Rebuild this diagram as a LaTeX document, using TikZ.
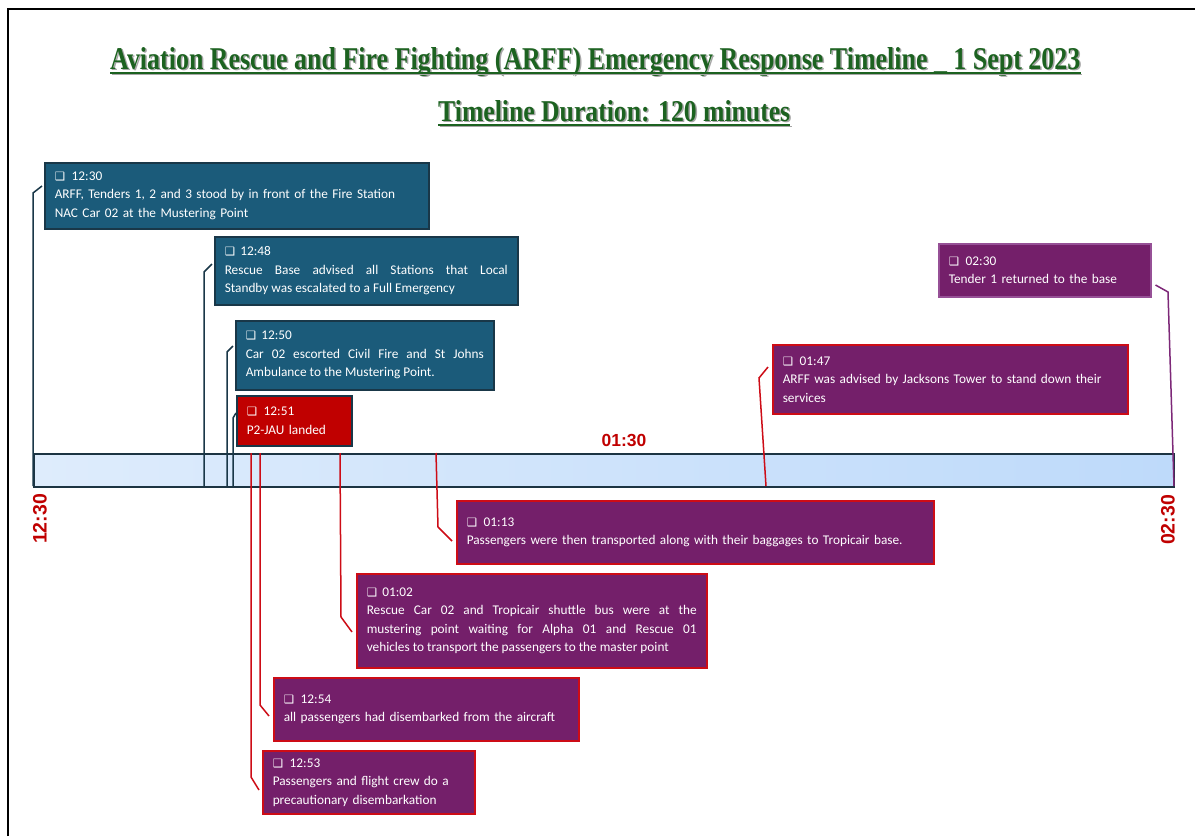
\documentclass[tikz,border=0pt]{standalone}
\usepackage{fontspec}
\usepackage{graphicx}
\usetikzlibrary{calc}
\setmainfont{Carlito}
\newfontfamily\titlefont{Liberation Serif}
\newfontfamily\labfont{Liberation Sans}
\newfontfamily\symfont{DejaVu Sans}
\definecolor{boxblue}{RGB}{27,91,122}
\definecolor{boxblueedge}{RGB}{25,55,72}
\definecolor{boxpurple}{RGB}{116,31,106}
\definecolor{edgered}{RGB}{205,12,22}
\definecolor{labred}{RGB}{192,0,0}
\definecolor{titlegreen}{RGB}{28,98,32}
\definecolor{barleft}{RGB}{222,236,252}
\definecolor{barright}{RGB}{190,218,250}
\definecolor{baredge}{RGB}{28,52,66}
\definecolor{connpurple}{RGB}{125,40,120}
\definecolor{edgepurple}{RGB}{150,80,150}
\newcommand{\chk}{{\symfont\fontsize{11.5}{11.5}\selectfont ❑}\ \,}
\tikzset{
  evt/.style={anchor=north west, inner xsep=10pt, inner ysep=0pt, text=white,
    font=\fontsize{13.3}{18.5}\selectfont, line width=1.5pt, align=left},
  bluebox/.style={evt, fill=boxblue, draw=boxblueedge},
  redbox/.style={evt, fill=labred, draw=boxblueedge},
  purplebox/.style={evt, fill=boxpurple, draw=edgered},
  lightpurplebox/.style={evt, fill=boxpurple, draw=edgepurple},
  bconn/.style={draw=boxblueedge, line width=1.5pt},
  rconn/.style={draw=edgered, line width=1.5pt},
  pconn/.style={draw=connpurple, line width=1.5pt},
  ttl/.style={inner sep=0pt, anchor=base west, text=titlegreen},
  ttlshadow/.style={inner sep=0pt, anchor=base west, text=black!35},
  timelab/.style={text=labred, font=\labfont\bfseries\fontsize{19.5}{19.5}\selectfont, inner sep=0pt}
}
\begin{document}
\begin{tikzpicture}[x=1pt,y=-1pt]
\useasboundingbox (0,0) rectangle (1195,836);
\fill[white] (0,0) rectangle (1195,836);
% frame
\draw[line width=2pt] (8,836) -- (8,9) -- (1195,9);

% titles
\node[ttlshadow] at (111.5,70.5) {\resizebox{970pt}{22pt}{\titlefont\bfseries Aviation Rescue and Fire Fighting (ARFF) Emergency Response Timeline \_ 1 Sept 2023}};
\node[ttl] (title) at (110,69) {\resizebox{970pt}{22pt}{\titlefont\bfseries Aviation Rescue and Fire Fighting (ARFF) Emergency Response Timeline \_ 1 Sept 2023}};
\draw[black!35, line width=1.5pt] ($(title.base west)+(1.5,5.5)$) -- ($(title.base east)+(1.5,5.5)$);
\draw[titlegreen, line width=1.5pt] ($(title.base west)+(0,4)$) -- ($(title.base east)+(0,4)$);

\node[ttlshadow] at (439.5,122.5) {\resizebox{352pt}{21pt}{\titlefont\bfseries Timeline Duration: 120 minutes}};
\node[ttl] (subtitle) at (438,121) {\resizebox{352pt}{21pt}{\titlefont\bfseries Timeline Duration: 120 minutes}};
\draw[black!35, line width=1.5pt] ($(subtitle.base west)+(1.5,5.5)$) -- ($(subtitle.base east)+(1.5,5.5)$);
\draw[titlegreen, line width=1.5pt] ($(subtitle.base west)+(0,4)$) -- ($(subtitle.base east)+(0,4)$);

% timeline bar
\node[draw=baredge, line width=2pt, left color=barleft, right color=barright, anchor=north west,
  minimum width=1140pt, minimum height=33pt, inner sep=0pt] (bar) at (33,453) {};

% time labels
\node[timelab, rotate=90] (l1230) at (40,519) {12:30};
\node[timelab, rotate=90] (l0230) at (1168,520) {02:30};
\node[timelab, font=\labfont\bfseries\fontsize{17.5}{17.5}\selectfont, anchor=base] (l0130) at (624,446) {01:30};

% event boxes
\node[bluebox, minimum width=384pt, minimum height=66pt, text width=364pt] (e1230) at (44,162)
  {\chk 12:30\\ARFF, Tenders 1, 2 and 3 stood by in front of the Fire Station\\NAC Car 02 at the Mustering Point};
\node[bluebox, minimum width=303pt, minimum height=68pt, text width=283pt, align=justify] (e1248) at (214,236)
  {\chk 12:48\newline Rescue Base advised all Stations that Local\linebreak Standby was escalated to a Full Emergency};
\node[bluebox, minimum width=258pt, minimum height=69pt, text width=238pt, align=justify] (e1250) at (235,320)
  {\chk 12:50\newline Car 02 escorted Civil Fire and St Johns\linebreak Ambulance to the Mustering Point.};
\node[redbox, minimum width=115pt, minimum height=50pt, text width=95pt] (e1251) at (236,395)
  {\chk 12:51\\P2-JAU landed};
\node[lightpurplebox, minimum width=212pt, minimum height=53pt, text width=192pt] (e0230) at (938,243)
  {\chk 02:30\\Tender 1 returned to the base};
\node[purplebox, minimum width=355pt, minimum height=69pt, text width=335pt] (e0147) at (772,344)
  {\chk 01:47\\ARFF was advised by Jacksons Tower to stand down their\\services};
\node[purplebox, minimum width=477pt, minimum height=63pt, text width=457pt] (e0113) at (456,500)
  {\chk 01:13\\Passengers were then transported along with their baggages to Tropicair base.};
\node[purplebox, minimum width=350pt, minimum height=94pt, text width=330pt, align=justify] (e0102) at (356,573)
  {\chk 01:02\newline Rescue Car 02 and Tropicair shuttle bus were at the\linebreak mustering point waiting for Alpha 01 and Rescue 01\linebreak vehicles to transport the passengers to the master point};
\node[purplebox, minimum width=305pt, minimum height=63pt, text width=285pt] (e1254) at (273,677)
  {\chk 12:54\\all passengers had disembarked from the aircraft};
\node[purplebox, minimum width=212pt, minimum height=63pt, text width=192pt] (e1253) at (262,750)
  {\chk 12:53\\Passengers and flight crew do a\\precautionary disembarkation};

% anchor points on the bar
\coordinate (b1230) at (33,486);
\coordinate (b1248) at (204,486);
\coordinate (b1250) at (227,486);
\coordinate (b1251) at (233,486);
\coordinate (b1253) at (251,453);
\coordinate (b1254) at (260,453);
\coordinate (b0102) at (340,453);
\coordinate (b0113) at (436,453);
\coordinate (b0147) at (766,486);
\coordinate (b0230) at (1174,486);

% connectors
\draw[bconn] (b1230) -- (33,193) -- ($(e1230.north west)+(-2,24)$);
\draw[bconn] (b1248) -- (204,272) -- ($(e1248.north west)+(-2,28)$);
\draw[bconn] (b1250) -- (227,352) -- ($(e1250.north west)+(-2,26)$);
\draw[bconn] (b1251) -- (233,418) -- ($(e1251.north west)+(0,18)$);
\draw[rconn] (b1253) -- (251,777) -- ($(e1253.north west)+(-3,40)$);
\draw[rconn] (b1254) -- (260,705) -- ($(e1254.north west)+(-4,39)$);
\draw[rconn] (b0102) -- (341,617) -- ($(e0102.north west)+(-4,59)$);
\draw[rconn] (b0113) -- (438,527) -- ($(e0113.north west)+(-4,41)$);
\draw[rconn] (b0147) -- (759,378) -- ($(e0147.north west)+(-4,23)$);
\draw[pconn] (b0230) -- (1168,292) -- ($(e0230.north east)+(4,42)$);
\end{tikzpicture}
\end{document}
